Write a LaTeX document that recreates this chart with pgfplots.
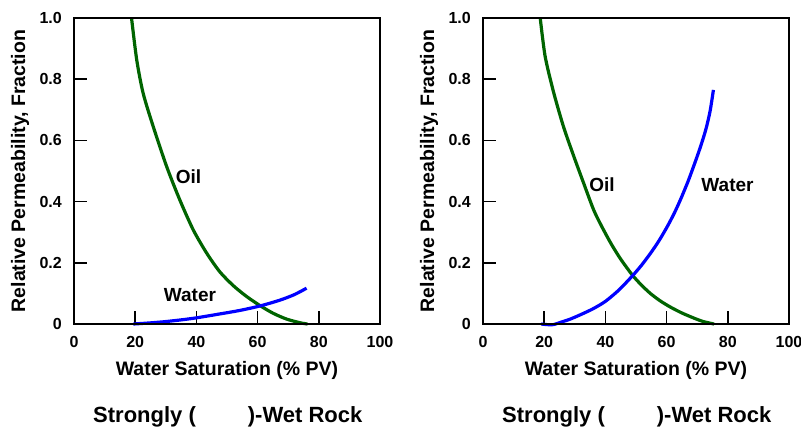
\documentclass[border=0pt]{standalone}
\usepackage{fontspec}
\setmainfont{Liberation Sans}
\usepackage{pgfplots}
\pgfplotsset{compat=1.18}

\definecolor{oilGreen}{RGB}{0,100,0}
\definecolor{waterBlue}{RGB}{0,0,255}

\pgfplotsset{
  permstyle/.style={
    scale only axis,
    axis lines=box,
    width=306pt, height=306pt,
    xmin=0, xmax=100, ymin=0, ymax=1,
    xtick={0,20,40,60,80,100},
    ytick={0,0.2,0.4,0.6,0.8,1.0},
    yticklabels={0,0.2,0.4,0.6,0.8,1.0},
    xtick pos=bottom, ytick pos=left, tick align=inside,
    major tick length=13pt,
    axis line style={black, line width=2pt},
    major tick style={black, line width=1.6pt},
    /pgf/number format/assume math mode=true,
    ticklabel style={font=\fontsize{16}{18}\selectfont\bfseries},
    xticklabel style={anchor=base, yshift=-23pt, inner sep=0pt},
    yticklabel style={anchor=east, xshift=-12pt, inner sep=0pt},
    xlabel={Water Saturation (\% PV)},
    ylabel={Relative Permeability, Fraction},
    label style={font=\fontsize{19.5}{22}\selectfont\bfseries},
    xlabel style={at={(axis description cs:0.5,-0.167)}, anchor=base},
    ylabel style={at={(axis description cs:-0.176,0.5)}, anchor=center},
    clip=false,
    every axis plot/.append style={line width=3.2pt, smooth, tension=0.45},
  }
}

\begin{document}
\begin{tikzpicture}
\useasboundingbox (0,0) rectangle (801pt,-426pt);

% ---- left: strongly water-wet ----
\begin{axis}[permstyle, at={(74pt,-324pt)}, anchor=south west]
\addplot[oilGreen] coordinates {
  (18.8,1.0) (20.5,0.863) (22.6,0.754) (25.9,0.645) (30.3,0.514)
  (34.6,0.405) (39,0.307) (43.4,0.231) (47.7,0.17) (52.1,0.125)
  (56.4,0.09) (60.8,0.06) (65.1,0.035) (69.5,0.016) (73.9,0.004) (76.3,0)
};
\addplot[waterBlue] coordinates {
  (19.4,0) (24,0.003) (29,0.007) (34.6,0.013) (39.9,0.02) (47.7,0.033)
  (54,0.044) (60.8,0.059) (67.3,0.078) (72,0.096) (76,0.117)
};
\node[font=\fontsize{19}{22}\selectfont\bfseries] at (axis cs:37.4,0.48) {Oil};
\node[font=\fontsize{19}{22}\selectfont\bfseries] at (axis cs:37.9,0.095) {Water};
\end{axis}

% ---- right: strongly oil-wet ----
\begin{axis}[permstyle, at={(483pt,-324pt)}, anchor=south west]
\addplot[oilGreen] coordinates {
  (18.7,1.0) (20.3,0.875) (23,0.76) (26.3,0.645) (29.6,0.55) (32.9,0.46)
  (36.2,0.372) (39,0.315) (42,0.26) (45,0.212) (48.8,0.16) (51.8,0.127)
  (54.8,0.099) (58,0.075) (61.3,0.055) (65,0.036) (69,0.019) (72,0.008)
  (75.5,0)
};
\addplot[waterBlue] coordinates {
  (19,0) (21,-0.002) (23,-0.002) (25.5,0.006) (28.5,0.016) (32,0.031)
  (36,0.05) (40,0.074) (44.4,0.111) (48.8,0.157) (51.8,0.192) (54.8,0.232)
  (57.5,0.272) (60.2,0.318) (62.5,0.362) (64.6,0.408) (67,0.466) (69,0.52)
  (71,0.577) (72.8,0.635) (74.2,0.695) (75.3,0.765)
};
\node[font=\fontsize{19}{22}\selectfont\bfseries] at (axis cs:38.9,0.454) {Oil};
\node[font=\fontsize{19}{22}\selectfont\bfseries] at (axis cs:79.9,0.454) {Water};
\end{axis}

% plot frames
\draw[black, line width=2.4pt] (74pt,-18pt) rectangle (380pt,-324pt);
\draw[black, line width=2.4pt] (483pt,-18pt) rectangle (789pt,-324pt);

% panel captions
\node[anchor=base west, inner sep=0pt, font=\fontsize{22}{26}\selectfont\bfseries]
  at (93pt,-422pt) {Strongly (\hspace{52pt})-Wet Rock};
\node[anchor=base west, inner sep=0pt, font=\fontsize{22}{26}\selectfont\bfseries]
  at (502pt,-422pt) {Strongly (\hspace{52pt})-Wet Rock};
\end{tikzpicture}
\end{document}
